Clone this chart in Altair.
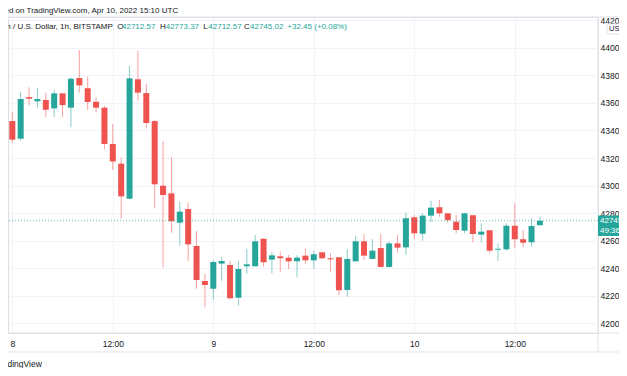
import altair as alt
import pandas as pd

# ---- data: BTC/USD hourly candles (Bitstamp), 2022-04-07 23:00 .. 2022-04-10 15:00 UTC
opens = [43640, 43468, 43340, 43642, 43611, 43621, 43560, 43669, 43565, 43780,
         43706, 43608, 43565, 43302, 43159, 42905, 43771, 43671, 43468, 42999,
         42944, 42731, 42830, 42562, 42308, 42252, 42434, 42424, 42187, 42415,
         42415, 42615, 42463, 42487, 42477, 42451, 42492, 42458, 42516, 42473,
         42480, 42243, 42451, 42596, 42468, 42547, 42410, 42581, 42552, 42770,
         42651, 42782, 42843, 42799, 42738, 42673, 42785, 42644, 42676, 42535,
         42538, 42709, 42611, 42589, 42712.57]
highs = [43690, 43536, 43681, 43713, 43706, 43674, 43693, 43671, 43785, 43983,
         43790, 43640, 43577, 43447, 43205, 43867, 43976, 43737, 43476, 43323,
         43205, 42881, 42876, 42671, 42359, 42460, 42484, 42453, 42455, 42542,
         42642, 42618, 42518, 42523, 42497, 42494, 42545, 42526, 42521, 42509,
         42482, 42538, 42637, 42649, 42611, 42651, 42593, 42640, 42803, 42787,
         42799, 42890, 42896, 42802, 42787, 42803, 42787, 42727, 42678, 42581,
         42727, 42872, 42678, 42763, 42773.37]
lows = [43420, 43311, 43326, 43584, 43565, 43497, 43497, 43497, 43423, 43674,
        43548, 43529, 43265, 43113, 42758, 42900, 43619, 43413, 42835, 42407,
        42658, 42564, 42455, 42252, 42117, 42173, 42310, 42175, 42129, 42361,
        42413, 42412, 42364, 42376, 42395, 42335, 42434, 42397, 42468, 42376,
        42207, 42194, 42446, 42463, 42466, 42408, 42407, 42513, 42499, 42615,
        42600, 42736, 42774, 42731, 42654, 42654, 42589, 42586, 42509, 42453,
        42528, 42545, 42552, 42557, 42712.57]
closes = [43452, 43333, 43628, 43630, 43628, 43550, 43669, 43584, 43775, 43727,
          43606, 43565, 43302, 43175, 42922, 43778, 43674, 43454, 43009, 42932,
          42741, 42811, 42574, 42315, 42279, 42446, 42453, 42183, 42395, 42429,
          42596, 42444, 42494, 42473, 42451, 42477, 42458, 42502, 42473, 42465,
          42241, 42468, 42596, 42492, 42528, 42410, 42581, 42550, 42763, 42654,
          42782, 42840, 42799, 42750, 42678, 42799, 42649, 42666, 42528, 42542,
          42709, 42611, 42586, 42707, 42745.02]
times = (pd.date_range("2022-04-07 23:00", periods=len(opens), freq="h")
         .strftime("%Y-%m-%dT%H:%M:%SZ").tolist())

price_ticks = list(range(42000, 44201, 200))
time_ticks = ["2022-04-08T00:00:00Z", "2022-04-08T12:00:00Z", "2022-04-09T00:00:00Z",
              "2022-04-09T12:00:00Z", "2022-04-10T00:00:00Z", "2022-04-10T12:00:00Z"]

published_text = "Published on TradingView.com, Apr 10, 2022 15:10 UTC"
symbol_text = "Bitcoin / U.S. Dollar, 1h, BITSTAMP"
countdown_text = "49:36"
footer_text = "TradingView"
currency_text = "USD"

# ---- styling
UP, DOWN = "#26a69a", "#ef5350"
TXT = "#131722"
GRID = "#f0f3fa"
BORDER = "#e0e3eb"
FONT = "Liberation Sans"

W, H = 590, 316
RIGHT = 611 - W          # keep the svg inside the page width
ms = lambda s: int(pd.Timestamp(s).value // 10**6)
base = ms("2022-04-08T00:00:00Z")
hour = 3600000
x_dom = [base + int(0.0818 * hour), base + int(69.342 * hour)]
y_dom = [41931.0, 44222.6]

df = pd.DataFrame({"t": times, "open": opens, "high": highs, "low": lows, "close": closes})
df["dir"] = ["up" if c >= o else "down" for o, c in zip(df["open"], df["close"])]

xscale = alt.Scale(type="utc", domain=x_dom, nice=False)
yscale = alt.Scale(domain=y_dom, nice=False, zero=False)
color = alt.Color("dir:N", scale=alt.Scale(domain=["up", "down"], range=[UP, DOWN]), legend=None)

xaxis = alt.Axis(values=[ms(t) for t in time_ticks], grid=True, gridColor=GRID, ticks=False,
                 tickSize=0, domain=False, labelFlush=False, labelOverlap=False,
                 labelExpr="utchours(datum.value) == 0 ? '' + utcdate(datum.value) : utcFormat(datum.value, '%H:%M')",
                 labelFontSize=8.5, labelColor=TXT, labelBaseline="middle", labelPadding=10,
                 labelFont=FONT, title=None)
yaxis = alt.Axis(orient="right", values=price_ticks, grid=True, gridColor=GRID, ticks=False,
                 tickSize=0, domain=False, format="d", labelAlign="left", labelPadding=2,
                 labelFontSize=8.5, labelColor=TXT, labelFont=FONT, title=None,
                 labelFlush=False, labelOverlap=False, labelBaseline="middle")

base_chart = alt.Chart(df)
wicks = base_chart.mark_rule(strokeWidth=1, opacity=0.55).encode(
    x=alt.X("t:T", scale=xscale, axis=xaxis),
    y=alt.Y("low:Q", scale=yscale, axis=yaxis),
    y2="high:Q",
    color=color,
)
bodies = base_chart.mark_bar(size=6).encode(
    x=alt.X("t:T", scale=xscale, axis=xaxis),
    y=alt.Y("open:Q", scale=yscale, axis=yaxis),
    y2="close:Q",
    color=color,
)

last_close = closes[-1]
price_line = alt.Chart(pd.DataFrame({"p": [last_close]})).mark_rule(
    strokeDash=[1, 2], color=UP, opacity=0.75, strokeWidth=1
).encode(y=alt.Y("p:Q", scale=yscale, axis=yaxis))


def text(s, x, y, col=TXT, size=8, weight="normal"):
    return alt.Chart(pd.DataFrame({"s": [s]})).mark_text(
        align="left", baseline="middle", fontSize=size, font=FONT, color=col, fontWeight=weight
    ).encode(text="s:N", x=alt.value(x), y=alt.value(y))


def rule(x, x2, y, y2=None, col=BORDER):
    enc = dict(x=alt.value(x), y=alt.value(y))
    if x2 is not None:
        enc["x2"] = alt.value(x2)
    if y2 is not None:
        enc["y2"] = alt.value(y2)
    return alt.Chart(pd.DataFrame({"a": [0]})).mark_rule(color=col, strokeWidth=1).encode(**enc)


def box(x, x2, y, y2, fill, stroke=None):
    kw = dict(fill=fill)
    if stroke:
        kw["stroke"] = stroke
        kw["strokeWidth"] = 1
    return alt.Chart(pd.DataFrame({"a": [0]})).mark_rect(**kw).encode(
        x=alt.value(x), x2=alt.value(x2), y=alt.value(y), y2=alt.value(y2))


o, h, l, c = opens[-1], highs[-1], lows[-1], closes[-1]
chg = c - o
pct = chg / o * 100

layers = [
    wicks, bodies, price_line,
    # frame lines
    rule(-8, 640, 0),
    rule(-8, 640, H),
    rule(-8, 640, 335),
    rule(W, None, 0, 335),
    # price label on the right axis
    box(W, 640, 198.5, 219, UP),
    text(f"{c:.2f}", W + 2, 204, "white", 8),
    text(countdown_text, W + 2, 214, "white", 8),
    # currency tag
    box(W + 9, 640, 7, 17, "white", BORDER),
    text(currency_text, W + 11, 12, TXT, 7.5),
    # header
    text(published_text, -29.8, -6, TXT, 8),
    text(symbol_text, -21.3, 10, TXT, 8),
    text("O", 109.3, 10, TXT, 8), text(f"{o:.2f}", 114, 10, UP, 8),
    text("H", 152, 10, TXT, 8), text(f"{h:.2f}", 157.7, 10, UP, 8),
    text("L", 195.3, 10, TXT, 8), text(f"{l:.2f}", 200.3, 10, UP, 8),
    text("C", 236, 10, TXT, 8), text(f"{c:.2f}", 242, 10, UP, 8),
    text(f"{chg:+.2f} ({pct:+.2f}%)", 279.3, 10, UP, 8),
    # footer
    text(footer_text, -13, 347, TXT, 8.5),
]

chart = alt.layer(*layers).properties(
    width=W, height=H,
    autosize=alt.AutoSizeParams(type="none"),
    padding={"left": 0, "top": 9, "right": RIGHT, "bottom": 35},
).configure_view(stroke=None).configure(background="white")

chart.save("out.html", embed_options={"renderer": "svg", "actions": False})
